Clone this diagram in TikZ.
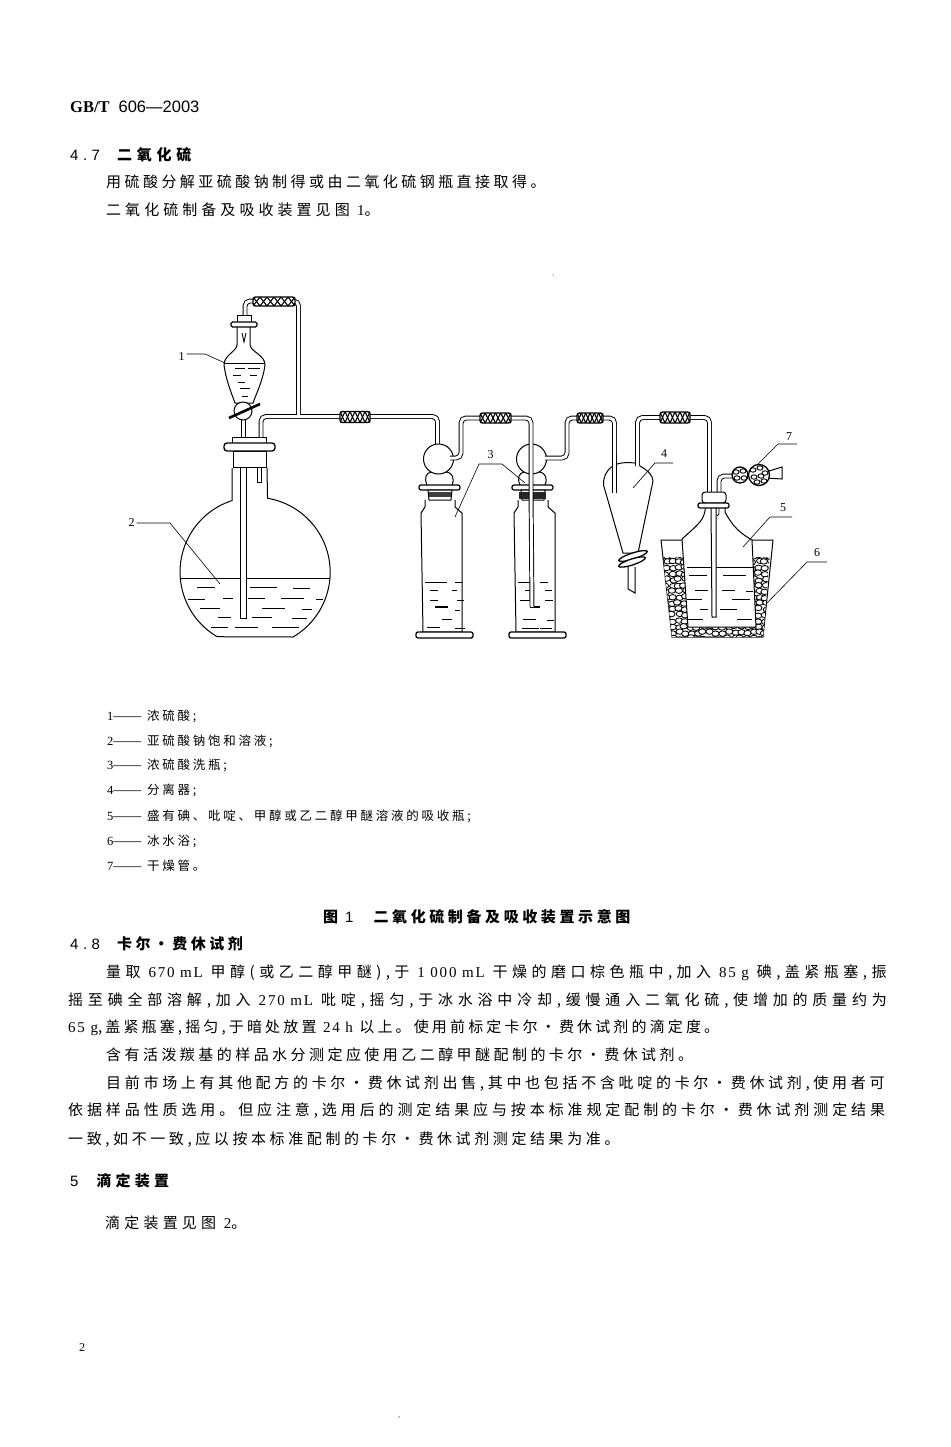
\documentclass[tikz,border=0pt]{standalone}
\usepackage{fontspec}
\setmainfont{Liberation Serif}
\newfontfamily\cjkfont{Noto Sans CJK SC}
\newfontfamily\latfont[LetterSpace=12]{Liberation Serif}
\newfontfamily\sansfont[LetterSpace=30]{Liberation Sans}
\newcommand{\lat}[1]{{\latfont #1}}
\newcommand{\san}[1]{{\sansfont #1}}
\newcommand{\bodyfont}[1]{\fontsize{15}{16}\selectfont\cjkfont\addfontfeatures{LetterSpace=#1}}
\newcommand{\headfont}[1]{\fontsize{15}{16}\selectfont\cjkfont\bfseries\addfontfeatures{LetterSpace=#1}}
\newcommand{\legendfont}{\fontsize{12.5}{14}\selectfont\cjkfont\addfontfeatures{LetterSpace=22}}
\newcommand{\legnum}[1]{\makebox[40pt][l]{\fontsize{12.5}{14}\selectfont\rmfamily #1{\fontsize{14}{14}\selectfont ——}}}
% braided rubber joint: centre x, centre y, width, height
\newcommand{\rubber}[4]{
  \draw[line width=1.4pt, fill=white, rounded corners=2.5pt] (#1-#3/2,#2-#4/2) rectangle (#1+#3/2,#2+#4/2);
  \begin{scope}
    \clip (#1-#3/2,#2-#4/2) rectangle (#1+#3/2,#2+#4/2);
    \foreach \k in {-1,...,6} {
      \draw[line width=1.1pt] (#1-#3/2+\k*#3/6,#2-#4/2) -- ++(#3/6,#4);
      \draw[line width=1.1pt] (#1-#3/2+\k*#3/6,#2+#4/2) -- ++(#3/6,-#4);
    }
  \end{scope}
}
\tikzset{
  glass/.style={line width=1pt, fill=white},
  tube/.style={line width=.95pt, double, double distance=3pt, rounded corners=5pt},
  leader/.style={line width=.6pt},
  level/.style={line width=.9pt},
  callout/.style={font=\fontsize{12}{12}\selectfont, inner sep=0pt},
  bodytext/.style={anchor=base west, inner sep=0pt, font=\bodyfont{#1}},
  headtext/.style={anchor=base west, inner sep=0pt, font=\headfont{#1}},
  legend/.style={anchor=base west, inner sep=0pt, font=\legendfont},
}
\begin{document}
\begin{tikzpicture}[x=1pt, y=-1pt]
  \useasboundingbox (0,0) rectangle (950,1447);

  % page text above the figure
  \node[anchor=base west, inner sep=0pt] (stdno) at (70,113) {\fontsize{16.5}{18}\selectfont\bfseries GB/T\hspace{9pt}\mdseries{\fontspec{Liberation Sans}606—2003}};
  \node[headtext=32] (sec47) at (70,161) {\san{\mdseries 4.7}\hspace{17pt}二氧化硫};
  \node[bodytext=23] (par1) at (106,188) {用硫酸分解亚硫酸钠制得或由二氧化硫钢瓶直接取得。};
  \node[bodytext=27] (par2) at (106,216) {二氧化硫制备及吸收装置见图 \lat{1}。};

  % flask
  \draw[glass] (232,468) -- (232,500.6) arc (252.1:120.3:75) -- (293,637) arc (59.7:-80.5:75) -- (267,468);
  \draw[level] (180,578) -- (330,578);
  \foreach \x/\y/\l in {197/587/18,250/587/27,293/588/17,223/598/10,248/598/17,281/598/23,316/599/7,188/599/17,200/608/20,262/608/23,302/609/10,218/617/13,252/617/20,292/618/15,211/627/17,235/627/23,272/627/27}
    \draw[level] (\x,\y) -- ++(\l,0);
  \draw[glass] (240.7,467) -- (240.7,618) -- (246,618) -- (246,467);
  \draw[glass] (257,467) -- (257,482) -- (261,482) -- (261,467);
  \draw[glass] (233,451) rectangle (266,467);
  \draw[glass] (232,437) rectangle (266,443);
  \draw[glass, rounded corners=3pt, line width=1.3pt] (224,443) rectangle (275,451);

  % dropping funnel
  \draw[glass] (241,420) -- (241,437) -- (245,437) -- (245,420);
  \draw[glass] (237,327) -- (237,345) .. controls (236,352) and (224,355) .. (224,365) .. controls (226,380) and (231,392) .. (235,403) -- (253,403) .. controls (257,392) and (263,380) .. (265,365) .. controls (265,355) and (251,352) .. (250,345) -- (250,327);
  \draw[level] (224,363) -- (265,363);
  \foreach \x/\y/\l in {235/368/10,248/368/12,233/375/8,250/375/7,238/382/7,240/388/10,242/396/6}
    \draw[level] (\x,\y) -- ++(\l,0);
  \draw[glass] (243,411) circle (9);
  \draw[line width=2.6pt] (229,418) -- (260,404);
  \draw[level] (242,333) -- (244,342) -- (246,333);
  \draw[glass] (237,315) rectangle (251,322);
  \draw[glass, rounded corners=1.5pt, line width=1.2pt] (231,322) rectangle (257,327);

  % tube from funnel and flask to first wash bottle
  \draw[tube] (245,315) -- (245,301) -- (298.5,301) -- (298.5,416.5) (261,437) -- (261,416.5) -- (437.5,416.5) -- (437.5,490) -- (439.5,607);
  \rubber{274}{301.5}{42}{9}
  \rubber{355}{417}{30}{11}

  % wash bottles
  \foreach \dx in {0,93} {
    \begin{scope}[xshift=\dx]
      \draw[glass] (425,500) -- (425,507) -- (421,513) -- (423,632) -- (462,632) -- (462,513) -- (455,507) -- (455,500);
      \draw[glass, rounded corners=2pt, line width=1.3pt] (416,632) rectangle (473,638);
      \draw[glass] (427,485) .. controls (424,478) and (426,473) .. (431,472) -- (447,472) .. controls (452,473) and (455,478) .. (452,485);
      \draw[glass] (438.5,459) circle (15);
      \draw[glass, rounded corners=2pt, line width=1.2pt] (419,485) rectangle (460,490);
      \draw[glass] (428,490) -- (452,490) -- (451,500) -- (429,500) -- cycle;
    \end{scope}
  }
  \fill[black!75] (429,492) rectangle (451,497);
  \fill[black!85] (519,492) rectangle (546,499);
  \foreach \x/\y/\l in {425/582/22,455/582/7,430/590/8,430/600/8,452/590/5,457/600/7,455/610/5,442/619/10,427/627/13,455/628/10,518/582/12,540/582/8,525/590/7,545/590/7,520/600/10,545/600/8,523/619/13,547/620/7,522/628/17,540/628/12}
    \draw[level] (\x,\y) -- ++(\l,0);
  \draw[line width=1.2pt] (435,607) -- (448,607);
  \draw[line width=2.4pt] (530,607) -- (540,607);

  % connections between wash bottles, separator and absorber
  \draw[tube] (450,458) -- (461,458) -- (461,418) -- (531,418) -- (531,490) -- (532,607);
  \draw[tube] (545,458) -- (567,458) -- (567,418) -- (614.5,418) -- (614.5,493);
  \rubber{495.5}{418}{31}{10}
  \rubber{590}{418}{26}{10}

  % separator
  \draw[glass] (635,463) .. controls (625,462) and (617,463) .. (613,466) .. controls (606,470) and (603,478) .. (603.5,485) -- (623,553) -- (638,553) -- (653,481) .. controls (653,475) and (647,470) .. (640,466);
  \draw[tube] (614.5,455) -- (614.5,493);
  \draw[glass] (628,567) -- (628,589) -- (635,593) -- (635,567);
  \draw[glass, line width=1.3pt, rotate around={18:(633,556)}] (633,556) ellipse (15 and 3);
  \draw[glass, line width=1.3pt, rotate around={18:(632,562)}] (632,562) ellipse (14 and 3);

  % ice bath
  \draw[line width=1pt] (661,540) -- (672,637) -- (763,637) -- (773,540) -- cycle;
  \begin{scope}
    \clip (663,557) -- (769.5,557) -- (763,637) -- (672,637) -- cycle;
    \pgfmathsetseed{11}
    \foreach \i in {0,...,18} {
      \foreach \j in {0,...,14} {
        \pgfmathsetmacro{\px}{660+\i*6.2+rand*1.6}
        \pgfmathsetmacro{\py}{556+\j*5.9+rand*1.2}
        \draw[line width=.85pt, fill=white] (\px,\py) ellipse (3.7 and 2.7);
      }
    }
  \end{scope}

  % absorption bottle
  \draw[glass] (705,508) -- (705,511) .. controls (703,520) and (700,523) .. (682,539) -- (688,627) -- (756,627) -- (752,540) .. controls (740,533) and (733,527) .. (725,512) -- (725,508);
  \draw[level] (687,567) -- (753,567);
  \foreach \x/\y/\l in {689/575/18,723/575/23,695/590/13,722/590/13,746/591/7,687/599/15,732/599/18,700/609/8,720/609/17,688/619/15,737/619/15}
    \draw[level] (\x,\y) -- ++(\l,0);
  \draw[glass] (711,507) -- (712,617) -- (716,617) -- (716,507);
  \draw[line width=.9pt] (719,508) -- (719,514) -- (717,516);
  \draw[tube] (637.5,466) -- (637.5,417.5) -- (709.5,417.5) -- (709.5,494);
  \draw[tube] (719,494) -- (719,476) -- (733,476);
  \rubber{675}{417.5}{30}{11}
  \draw[glass, rounded corners=3pt] (702,492) rectangle (726,503);
  \draw[glass, rounded corners=2pt, line width=1.2pt] (698,503) rectangle (729,508);

  % drying tube
  \draw[glass] (766,472) -- (782,467) -- (782,479) -- (766,478);
  \draw[glass, line width=1.3pt] (740,475) circle (8);
  \draw[glass, line width=1.3pt] (759,475) circle (10.5);
  \foreach \x/\y in {736/472,743/471,737/478,744/478,753/470,760/468,765/473,754/477,761/476,757/482,764/481}
    \draw[line width=.9pt] (\x,\y) ellipse (3 and 2.2);

  % callouts
  \node[callout] (one) at (181.5,357) {1};
  \node[callout] (two) at (131.5,523) {2};
  \node[callout] (three) at (490.5,455) {3};
  \node[callout] (four) at (664,454) {4};
  \node[callout] (five) at (783,508) {5};
  \node[callout] (six) at (817,553) {6};
  \node[callout] (seven) at (789,437) {7};
  \coordinate (oneend) at (225,363);
  \coordinate (twoend) at (220,584);
  \coordinate (threea) at (455,517);
  \coordinate (threeb) at (525,483);
  \coordinate (fourend) at (633,488);
  \coordinate (fiveend) at (743,547);
  \coordinate (sixend) at (767,603);
  \coordinate (sevenend) at (757,465);
  \draw[leader] (one.east) ++(2,-3) -- (205,354) -- (oneend);
  \draw[leader] (two.east) ++(2,0) -- (170,523) -- (twoend);
  \draw[leader] (threea) -- (479,464) -- (502,464) -- (threeb);
  \draw[leader] (673,463) -- (655,463) -- (fourend);
  \draw[leader] (792,517) -- (770,517) -- (fiveend);
  \draw[leader] (827,562) -- (807,562) -- (sixend);
  \draw[leader] (797,444) -- (778,444) -- (sevenend);

  % legend
  \node[legend] (leg1) at (107,720) {\legnum{1}浓硫酸;};
  \node[legend] (leg2) at (107,745) {\legnum{2}亚硫酸钠饱和溶液;};
  \node[legend] (leg3) at (107,769) {\legnum{3}浓硫酸洗瓶;};
  \node[legend] (leg4) at (107,794) {\legnum{4}分离器;};
  \node[legend] (leg5) at (107,820) {\legnum{5}盛有碘、吡啶、甲醇或乙二醇甲醚溶液的吸收瓶;};
  \node[legend] (leg6) at (107,845) {\legnum{6}冰水浴;};
  \node[legend] (leg7) at (107,870) {\legnum{7}干燥管。};
  \node[headtext=24] (caption) at (323,922) {图 \san{\mdseries 1}\hspace{20pt}二氧化硫制备及吸收装置示意图};

  % page text below the figure
  \node[headtext=23] (sec48) at (70,949) {\san{\mdseries 4.8}\hspace{17pt}卡尔・费休试剂};
  \node[bodytext=30] (b1) at (106,977) {量取 \lat{670 mL} 甲醇(或乙二醇甲醚),于 \lat{1 000 mL} 干燥的磨口棕色瓶中,加入 \lat{85 g} 碘,盖紧瓶塞,振};
  \node[bodytext=32] (b2) at (68,1005) {摇至碘全部溶解,加入 \lat{270 mL} 吡啶,摇匀,于冰水浴中冷却,缓慢通入二氧化硫,使增加的质量约为};
  \node[bodytext=21] (b3) at (68,1032) {\lat{65 g},盖紧瓶塞,摇匀,于暗处放置 \lat{24 h} 以上。使用前标定卡尔・费休试剂的滴定度。};
  \node[bodytext=23] (b4) at (106,1060) {含有活泼羰基的样品水分测定应使用乙二醇甲醚配制的卡尔・费休试剂。};
  \node[bodytext=24.6] (b5) at (106,1088) {目前市场上有其他配方的卡尔・费休试剂出售,其中也包括不含吡啶的卡尔・费休试剂,使用者可};
  \node[bodytext=26] (b6) at (68,1115) {依据样品性质选用。但应注意,选用后的测定结果应与按本标准规定配制的卡尔・费休试剂测定结果};
  \node[bodytext=24] (b7) at (68,1144) {一致,如不一致,应以按本标准配制的卡尔・费休试剂测定结果为准。};
  \node[headtext=28] (sec5) at (70,1186) {\san{\mdseries 5}\hspace{18pt}滴定装置};
  \node[bodytext=28] (b8) at (105,1228) {滴定装置见图 \lat{2}。};
  \node[anchor=base west, inner sep=0pt, font=\fontsize{12}{14}\selectfont] (pageno) at (79,1351) {2};

  % specks of the scan
  \fill (553,275) circle (.5);
  \fill (399,1417) circle (.7);
\end{tikzpicture}
\end{document}
